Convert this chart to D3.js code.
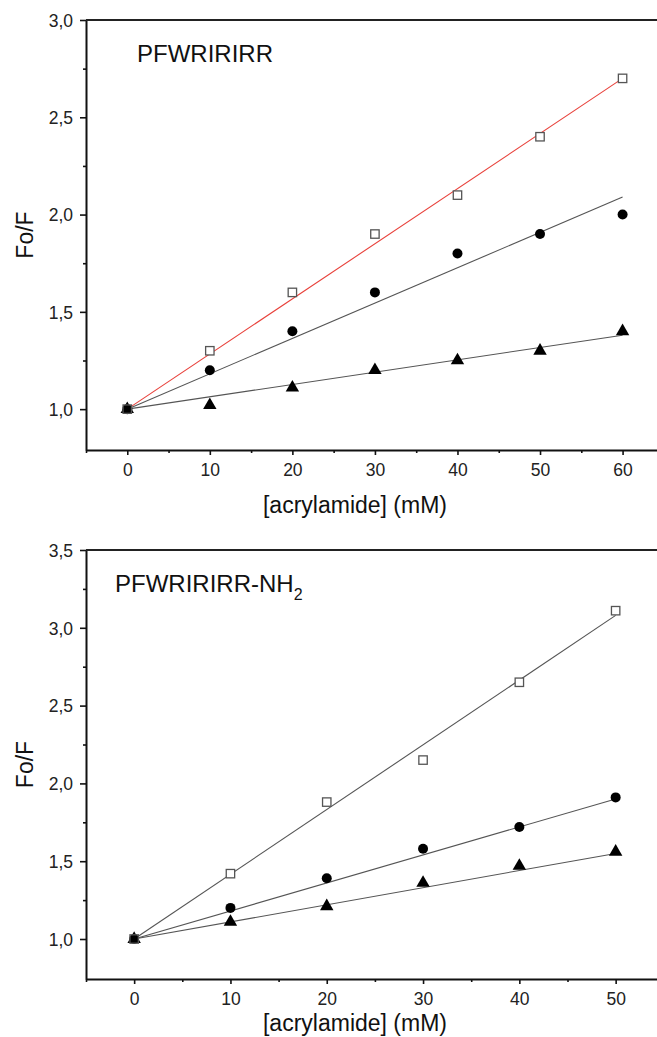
<!DOCTYPE html>
<html>
<head>
<meta charset="utf-8">
<script src="https://cdn.jsdelivr.net/npm/d3@7"></script>
<style>
  body { margin: 0; background: #fff; }
  svg { display: block; font-family: "Liberation Sans", Arial, sans-serif; }
</style>
</head>
<body>
<svg id="chart" width="657" height="1037"></svg>
<script>
const svg = d3.select("#chart");

// top panel: PFWRIRIRR
const topConc = [0, 10, 20, 30, 40, 50, 60];
const topSquares = [1.0, 1.3, 1.6, 1.9, 2.1, 2.4, 2.7];
const topCircles = [1.0, 1.2, 1.4, 1.6, 1.8, 1.9, 2.0];
const topTriangles = [1.0, 1.02, 1.11, 1.2, 1.25, 1.3, 1.4];
const topFitEnd = [2.7, 2.09, 1.38];   // fitted Fo/F at last concentration
const topYTicks = [1.0, 1.5, 2.0, 2.5, 3.0];
const topXTicks = [0, 10, 20, 30, 40, 50, 60];

// bottom panel: PFWRIRIRR-NH2
const botConc = [0, 10, 20, 30, 40, 50];
const botSquares = [1.0, 1.42, 1.88, 2.15, 2.65, 3.11];
const botCircles = [1.0, 1.2, 1.39, 1.58, 1.72, 1.91];
const botTriangles = [1.0, 1.11, 1.21, 1.36, 1.47, 1.56];
const botFitEnd = [3.08, 1.9, 1.55];
const botYTicks = [1.0, 1.5, 2.0, 2.5, 3.0, 3.5];
const botXTicks = [0, 10, 20, 30, 40, 50];

const fmt = d => d3.format(".1f")(d).replace(".", ",");

function drawPanel(p) {
    const g = svg.append("g");
    const x = d3.scaleLinear().domain(p.xDomain).range([86, 86 + p.xUnit * (p.xDomain[1] - p.xDomain[0])]);
    const y = d3.scaleLinear().domain(p.yDomain).range([p.bottom, p.top]);

    // minor ticks
    const minorX = d3.range(p.xDomain[0], p.xDomain[1] + 0.1, 5).filter(v => !p.xTicks.includes(v));
    const minorY = d3.range(1.25, p.yDomain[1], 0.5);
    g.append("g").attr("transform", `translate(0,${p.bottom})`)
        .call(d3.axisBottom(x).tickValues(minorX).tickSize(3).tickFormat(""))
        .call(a => a.select(".domain").remove());
    g.append("g").attr("transform", "translate(86,0)")
        .call(d3.axisLeft(y).tickValues(minorY).tickSize(3).tickFormat(""))
        .call(a => a.select(".domain").remove());

    // major axes
    const xa = g.append("g").attr("transform", `translate(0,${p.bottom})`)
        .call(d3.axisBottom(x).tickValues(p.xTicks).tickSize(5).tickPadding(9).tickSizeOuter(0));
    const ya = g.append("g").attr("transform", "translate(86,0)")
        .call(d3.axisLeft(y).tickValues(p.yTicks).tickSize(6).tickPadding(7).tickFormat(fmt).tickSizeOuter(0));
    [xa, ya].forEach(a => {
        a.select(".domain").attr("stroke", "#111").attr("stroke-width", 2);
        a.selectAll("text").attr("font-size", 17.5).attr("fill", "#222");
    });
    ya.selectAll("text").attr("dy", "0.36em");
    g.selectAll(".tick line").attr("stroke", "#111").attr("stroke-width", 1.6);

    // top frame line
    g.append("line")
        .attr("x1", 86).attr("x2", 657)
        .attr("y1", p.top).attr("y2", p.top)
        .attr("stroke", "#222").attr("stroke-width", 2);

    // fit lines
    const lineColors = [p.squareLine, "#555", "#555"];
    p.fitEnd.forEach((v, i) => {
        g.append("line")
            .attr("x1", x(0)).attr("y1", y(1.0))
            .attr("x2", x(d3.max(p.conc))).attr("y2", y(v))
            .attr("stroke", lineColors[i]).attr("stroke-width", 1.1);
    });

    // markers
    p.conc.forEach((c, i) => {
        g.append("path")
            .attr("d", d3.symbol(d3.symbolTriangle, 78)())
            .attr("transform", `translate(${x(c)},${y(p.triangles[i])})`)
            .attr("fill", "#000");
        g.append("circle")
            .attr("cx", x(c)).attr("cy", y(p.circles[i])).attr("r", 5)
            .attr("fill", "#000");
        g.append("rect")
            .attr("x", x(c) - 4.2).attr("y", y(p.squares[i]) - 4.2)
            .attr("width", 8.4).attr("height", 8.4)
            .attr("fill", c === 0 ? "none" : "#fff").attr("stroke", "#555").attr("stroke-width", 1.3);
    });

    // title
    const t = g.append("text")
        .attr("x", p.titleX).attr("y", p.top + 42)
        .attr("font-size", 24).attr("fill", "#111");
    t.append("tspan").text(p.title);
    if (p.sub) {
        t.append("tspan").attr("font-size", 16).attr("dy", 8).text(p.sub);
    }

    // axis labels
    g.append("text")
        .attr("x", 355).attr("y", p.xLabelY)
        .attr("text-anchor", "middle").attr("font-size", 23).attr("fill", "#111")
        .text("[acrylamide] (mM)");
    g.append("text")
        .attr("transform", `translate(33,${(p.top + p.bottom) / 2}) rotate(-90)`)
        .attr("text-anchor", "middle").attr("font-size", 23).attr("fill", "#111")
        .text("Fo/F");
}

drawPanel({
    top: 20, bottom: 450, xDomain: [-5, 65], xUnit: 8.255, yDomain: [0.79, 3.0],
    conc: topConc, squares: topSquares, circles: topCircles, triangles: topTriangles,
    fitEnd: topFitEnd, xTicks: topXTicks, yTicks: topYTicks,
    squareLine: "#e8403a", title: "PFWRIRIRR", titleX: 137, xLabelY: 513
});

drawPanel({
    top: 550, bottom: 979, xDomain: [-5, 55], xUnit: 9.63, yDomain: [0.743, 3.5],
    conc: botConc, squares: botSquares, circles: botCircles, triangles: botTriangles,
    fitEnd: botFitEnd, xTicks: botXTicks, yTicks: botYTicks,
    squareLine: "#555", title: "PFWRIRIRR-NH", sub: "2", titleX: 115, xLabelY: 1031
});
</script>
</body>
</html>
